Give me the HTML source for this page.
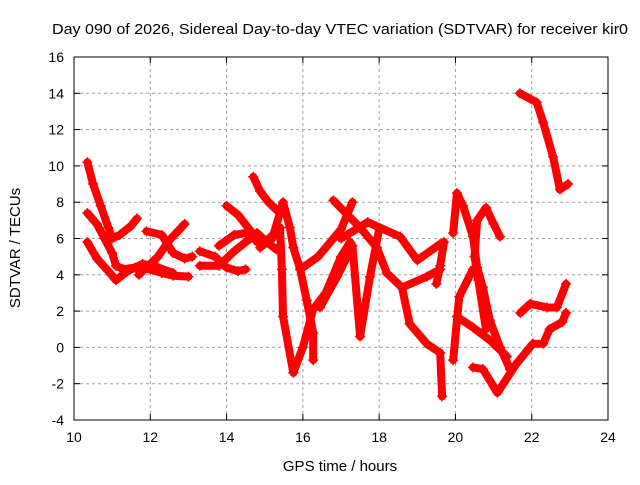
<!DOCTYPE html>
<html><head><meta charset="utf-8"><style>
body{margin:0;background:#fff}
svg text{font-family:"Liberation Sans",sans-serif;fill:#000}
</style></head><body>
<svg id="chart" width="640" height="480">
<text x="52" y="34" font-size="15" textLength="576" lengthAdjust="spacingAndGlyphs">Day 090 of 2026, Sidereal Day-to-day VTEC variation (SDTVAR) for receiver kir0</text>
<text x="340" y="471" font-size="15" text-anchor="middle">GPS time / hours</text>
<text x="20" y="248" font-size="15" text-anchor="middle" transform="rotate(-90 20 248)">SDTVAR / TECUs</text>
<g id="grid"></g><g id="marks"></g>
<rect x="74" y="57" width="534" height="363" fill="none" stroke="#000" stroke-width="1"/>
<g id="ticks"></g>
</svg>
<script>
const xTicks=[10,12,14,16,18,20,22,24];
const yTicks=[-4,-2,0,2,4,6,8,10,12,14,16];
const trackA=[[10.35,10.2],[10.5,9.0],[10.7,7.8],[10.9,6.6],[11.0,6.0],[11.2,6.2],[11.5,6.7],[11.65,7.1]];
const trackB=[[10.35,7.4],[10.6,6.8],[10.8,6.0],[11.0,5.2],[11.1,4.5],[11.3,4.3],[11.6,4.4],[12.0,4.3],[12.3,4.1],[12.6,3.95],[13.0,3.9]];
const trackC=[[10.35,5.8],[10.6,4.9],[10.9,4.2],[11.1,3.7],[11.4,4.2],[11.8,4.6],[12.2,4.4],[12.6,4.1]];
const trackD=[[11.7,4.0],[12.2,5.0],[12.5,5.9],[12.9,6.8]];
const trackE=[[11.9,6.4],[12.3,6.2],[12.6,5.2],[12.9,4.9],[13.1,5.0]];
const trackF=[[13.3,5.3],[13.7,5.0],[14.0,4.4],[14.3,4.2],[14.5,4.3]];
const trackG=[[13.3,4.5],[13.8,4.5],[14.2,5.3],[14.5,5.8],[14.8,6.3],[15.0,5.9],[15.3,5.4]];
const trackH=[[14.0,7.8],[14.3,7.3],[14.6,6.5],[14.8,5.8],[15.0,5.7]];
const trackI=[[13.8,5.6],[14.2,6.2],[14.5,6.3],[14.9,5.9],[15.2,6.0],[15.48,8.0],[15.66,6.6],[15.75,5.5],[15.93,4.3],[16.1,2.6],[16.27,0.8],[16.27,-0.7]];
const trackJ=[[14.7,9.4],[14.88,8.6],[15.1,8.0],[15.4,7.4]];
const trackK=[[14.88,5.5],[15.4,6.6],[15.45,4.3],[15.48,1.7],[15.75,-1.4],[16.0,0.0],[16.27,2.1],[16.6,3.0],[17.0,5.0],[17.24,5.8]];
const trackL=[[15.93,4.3],[16.4,5.0],[17.0,6.5],[17.3,8.0]];
const trackM=[[16.8,8.1],[17.5,6.6],[17.94,5.5],[18.2,4.1],[18.6,3.3],[19.25,3.9],[19.6,4.3]];
const trackN=[[17.0,6.0],[17.7,6.9],[18.55,6.1],[19.0,4.8],[19.6,5.7]];
const trackO=[[16.45,2.2],[16.9,3.9],[17.3,5.6],[17.5,0.6],[17.76,3.9],[18.0,6.5]];
const trackP=[[18.6,3.3],[18.8,1.3],[19.25,0.2],[19.6,-0.3],[19.65,-2.7]];
const trackQ=[[19.7,5.8],[19.6,4.5],[19.5,3.5]];
const trackR=[[19.94,6.3],[20.04,8.5],[20.2,7.8],[20.46,6.1],[20.57,4.4],[20.72,3.3],[20.9,1.5],[21.17,0.0],[21.43,-1.2]];
const trackS=[[20.57,7.0],[20.8,7.7],[21.0,6.8],[21.17,6.1]];
const trackT=[[20.57,7.0],[20.5,5.0],[20.6,3.7],[20.8,1.0]];
const trackU=[[19.94,-0.7],[20.1,2.8],[20.46,4.3]];
const trackV=[[20.04,1.7],[20.46,1.1],[20.9,0.4],[21.35,-0.5]];
const trackW=[[20.46,-1.1],[20.72,-1.2],[21.1,-2.5],[21.6,-0.9],[22.03,0.2],[22.3,0.2],[22.47,1.0],[22.8,1.4],[22.9,1.9]];
const trackX=[[21.7,1.9],[21.96,2.4],[22.4,2.2],[22.66,2.2],[22.9,3.5]];
const trackY=[[21.69,14.0],[22.13,13.5],[22.3,12.4],[22.56,10.5],[22.74,8.7],[22.95,9.0]];
const tracks=[trackA,trackB,trackC,trackD,trackE,trackF,trackG,trackH,trackI,trackJ,trackK,trackL,trackM,trackN,trackO,trackP,trackQ,trackR,trackS,trackT,trackU,trackV,trackW,trackX,trackY];
const NS="http://www.w3.org/2000/svg";
const X=h=>74+(h-10)*534/14, Y=v=>57+(16-v)*363/20;
const grid=document.getElementById('grid'),ticks=document.getElementById('ticks'),marks=document.getElementById('marks');
function mk(tag,attrs,parent){const e=document.createElementNS(NS,tag);for(const k in attrs)e.setAttribute(k,attrs[k]);parent.appendChild(e);return e;}
xTicks.forEach(t=>{const x=X(t);
 if(t>10&&t<24){const g=mk('line',{x1:x,x2:x,y1:57,y2:420,stroke:'#a0a0a0','stroke-dasharray':'3,3'},grid);}
 mk('line',{x1:x,x2:x,y1:420,y2:414,stroke:'#000'},ticks);mk('line',{x1:x,x2:x,y1:57,y2:63,stroke:'#000'},ticks);
 const tx=mk('text',{x:x,y:442,'font-size':14,'text-anchor':'middle'},ticks);tx.textContent=t;
 });
yTicks.forEach(t=>{const y=Y(t);
 if(t>-4&&t<16){const g=mk('line',{x1:74,x2:608,y1:y,y2:y,stroke:'#a0a0a0','stroke-dasharray':'3,3'},grid);}
 mk('line',{x1:74,x2:80,y1:y,y2:y,stroke:'#000'},ticks);mk('line',{x1:608,x2:602,y1:y,y2:y,stroke:'#000'},ticks);
 const tx=mk('text',{x:64,y:y+5,'font-size':14,'text-anchor':'end'},ticks);tx.textContent=t;
 });
tracks.forEach(tr=>{
 const pl=mk('polyline',{points:tr.map(p=>X(p[0])+','+Y(p[1])).join(' '),fill:'none',stroke:'#ff0000','stroke-width':8,'stroke-linejoin':'round','stroke-linecap':'round'},marks);
 
 
 tr.forEach(p=>{const x=X(p[0]),y=Y(p[1]);
  const m=mk('path',{d:`M${x-5},${y}h10M${x},${y-5}v10`,stroke:'#ff0000','stroke-width':1.5},marks);
  
  });
});
</script>
</body></html>
